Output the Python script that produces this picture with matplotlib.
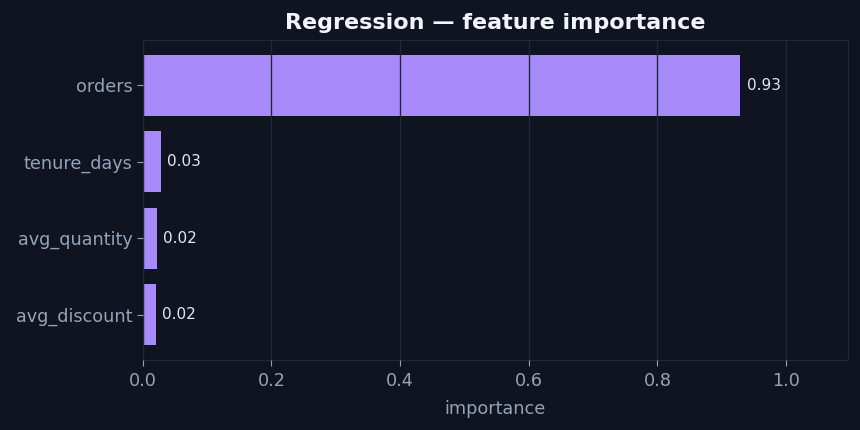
import matplotlib
matplotlib.use("Agg")
import matplotlib.pyplot as plt

features = ["orders", "tenure_days", "avg_quantity", "avg_discount"]
importance = [0.929, 0.028, 0.022, 0.020]

bg = "#0f1420"
grid_color = "#1e293b"
text_color = "#94a3b8"

fig, ax = plt.subplots(figsize=(8.6, 4.3), dpi=100)
fig.patch.set_facecolor(bg)
ax.set_facecolor(bg)

ypos = list(range(len(features)))
ax.barh(ypos, importance, height=0.8, color="#a78bfa", zorder=1)
ax.set_yticks(ypos)
ax.set_yticklabels(features)
ax.invert_yaxis()

for y, v in zip(ypos, importance):
    ax.text(v + 0.01, y, f"{v:.2f}", va="center", ha="left",
            color="#e2e8f0", fontsize=11)

ax.set_xlim(0, max(importance) * 1.18)
ax.grid(axis="x", color=grid_color, linewidth=1, zorder=2)
ax.set_axisbelow(False)
for s in ax.spines.values():
    s.set_color(grid_color)
ax.tick_params(colors=text_color, labelsize=12.7, length=4, color=text_color)
ax.tick_params(axis="x", pad=5)
ax.set_xlabel("importance", color=text_color, fontsize=12.7, labelpad=7)
ax.set_title("Regression — feature importance", color="#f1f5f9",
             fontsize=16, fontweight="bold", pad=8)

fig.subplots_adjust(left=0.166, right=0.986, top=0.907, bottom=0.163)
fig.savefig("out.png", facecolor=bg)
